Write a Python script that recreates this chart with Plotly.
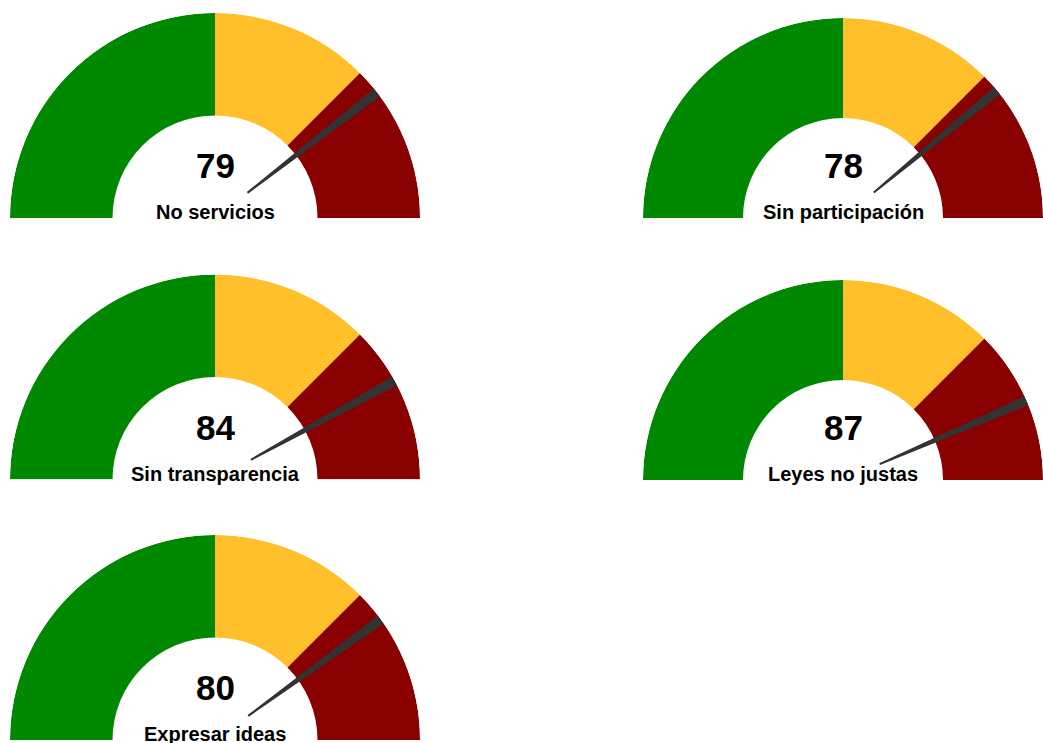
import plotly.graph_objects as go

# ---- data ----
labels = ["No servicios", "Sin participación", "Sin transparencia", "Leyes no justas", "Expresar ideas"]
values = [79, 78, 84, 87, 80]
band_starts = [0, 50, 75]
band_ends = [50, 75, 100]
band_colors = ["#008800", "#FFC02B", "#880000"]
needle_color = "#333333"
scale_max = 100

# ---- layout (pixels) ----
W, H = 1043, 743
# (left px, right px, centre-line y px, radius px)
cells = [
    (10, 420, 218, 205),
    (643, 1043, 218, 200),
    (10, 420, 480, 206),
    (643, 1043, 480, 200),
    (10, 420, 740, 205),
]
hole = 0.5
needle_base = 0.2
needle_width_deg = 2.8

deg = 180.0 / scale_max

fig = go.Figure()
annotations = []
for i, (lab, val) in enumerate(zip(labels, values)):
    x0, x1, yc, R = cells[i]
    pid = "polar" if i == 0 else f"polar{i+1}"
    fig.add_trace(go.Barpolar(
        r=[1 - hole] * len(band_starts),
        base=[hole] * len(band_starts),
        theta=[(s + e) / 2 * deg for s, e in zip(band_starts, band_ends)],
        width=[(e - s) * deg for s, e in zip(band_starts, band_ends)],
        marker=dict(color=band_colors, line=dict(width=0)),
        subplot=pid, showlegend=False, hoverinfo="skip",
    ))
    fig.add_trace(go.Barpolar(
        r=[1 - needle_base], base=[needle_base],
        theta=[val * deg], width=[needle_width_deg],
        marker=dict(color=needle_color, line=dict(width=0)),
        subplot=pid, showlegend=False, hoverinfo="skip",
    ))
    fig.update_layout(**{pid: dict(
        domain=dict(x=[x0 / W, x1 / W], y=[1 - yc / H, 1 - (yc - R) / H]),
        sector=[0, 180],
        bgcolor="rgba(0,0,0,0)",
        barmode="overlay",
        radialaxis=dict(visible=False, range=[0, 1]),
        angularaxis=dict(visible=False, rotation=180, direction="clockwise"),
    )})
    cx = (x0 + x1) / 2 / W
    annotations.append(dict(
        text=str(val), x=cx, y=1 - (yc - 53) / H, xref="paper", yref="paper",
        xanchor="center", yanchor="middle", showarrow=False,
        font=dict(family="Liberation Sans, Arial, sans-serif", size=35, color="#000000", weight="bold"),
    ))
    annotations.append(dict(
        text=lab, x=cx, y=1 - (yc - 6) / H, xref="paper", yref="paper",
        xanchor="center", yanchor="middle", showarrow=False,
        font=dict(family="Liberation Sans, Arial, sans-serif", size=20, color="#000000", weight="bold"),
    ))

fig.update_layout(
    width=W, height=H,
    margin=dict(l=0, r=0, t=0, b=0),
    paper_bgcolor="white", plot_bgcolor="white",
    annotations=annotations,
)

fig.write_html(
    "out.html",
    config={"displayModeBar": False},
    post_script="document.body.style.margin='0';document.body.style.overflow='hidden';",
)
